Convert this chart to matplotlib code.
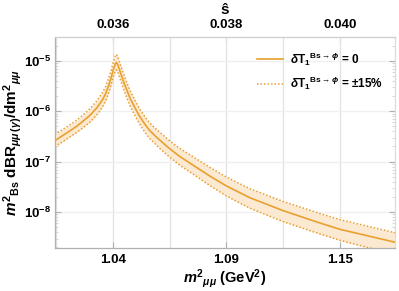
import matplotlib
matplotlib.use("Agg")
import matplotlib.pyplot as plt
from matplotlib.ticker import FixedLocator, FormatStrFormatter, LogLocator, NullFormatter

plt.rcParams['font.family'] = ['Liberation Sans', 'DejaVu Sans']
plt.rcParams['font.weight'] = 'bold'
plt.rcParams['axes.labelweight'] = 'bold'
plt.rcParams['mathtext.fontset'] = 'custom'
plt.rcParams['mathtext.rm'] = 'Liberation Sans:bold'
plt.rcParams['mathtext.it'] = 'Liberation Sans:italic:bold'
plt.rcParams['mathtext.bf'] = 'Liberation Sans:bold'
plt.rcParams['mathtext.sf'] = 'Liberation Sans:bold'

# ---- data ----
MB2 = 28.8  # m_Bs^2 in GeV^2, s_hat = m^2 / MB2
m2 = [1.0072, 1.0107, 1.0148, 1.0184, 1.0214, 1.0250, 1.0285, 1.0300, 1.0316, 1.0331,
      1.0346, 1.0359, 1.0369, 1.0379, 1.0385, 1.0392, 1.0400, 1.0410, 1.0422, 1.0438,
      1.0453, 1.0471, 1.0488, 1.0504, 1.0529, 1.0554, 1.0580, 1.0605, 1.0653, 1.0707,
      1.0773, 1.0859, 1.0944, 1.1062, 1.1232, 1.1418, 1.1523, 1.1809]
central = [2.605e-7, 3.184e-7, 4.055e-7, 5.046e-7, 6.25e-7, 8.22e-7, 1.157e-6, 1.389e-6, 1.720e-6, 2.241e-6,
           3.228e-6, 4.648e-6, 6.54e-6, 8.60e-6, 9.30e-6, 8.41e-6, 6.85e-6, 5.21e-6, 3.79e-6, 2.63e-6,
           1.867e-6, 1.357e-6, 1.009e-6, 7.85e-7, 5.58e-7, 4.15e-7, 3.30e-7, 2.69e-7, 1.84e-7, 1.268e-7,
           8.60e-8, 5.21e-8, 3.30e-8, 1.937e-8, 1.071e-8, 6.11e-9, 4.54e-9, 2.49e-9]
upper = [3.43e-7, 4.19e-7, 5.33e-7, 6.64e-7, 8.33e-7, 1.111e-6, 1.592e-6, 1.928e-6, 2.387e-6, 3.111e-6,
         4.564e-6, 6.572e-6, 9.25e-6, 1.238e-5, 1.339e-5, 1.211e-5, 9.77e-6, 7.43e-6, 5.41e-6, 3.70e-6,
         2.629e-6, 1.911e-6, 1.421e-6, 1.105e-6, 7.89e-7, 5.87e-7, 4.67e-7, 3.86e-7, 2.64e-7, 1.835e-7,
         1.262e-7, 7.75e-8, 4.97e-8, 2.92e-8, 1.629e-8, 9.42e-9, 7.06e-9, 3.84e-9]
lower = [1.98e-7, 2.42e-7, 3.08e-7, 3.80e-7, 4.65e-7, 6.03e-7, 8.41e-7, 1.001e-6, 1.239e-6, 1.615e-6,
         2.304e-6, 3.318e-6, 4.668e-6, 6.11e-6, 6.61e-6, 5.97e-6, 4.87e-6, 3.70e-6, 2.69e-6, 1.843e-6,
         1.308e-6, 9.51e-7, 7.07e-7, 5.50e-7, 3.875e-7, 2.88e-7, 2.29e-7, 1.834e-7, 1.254e-7, 8.53e-8,
         5.71e-8, 3.38e-8, 2.09e-8, 1.200e-8, 6.49e-9, 3.70e-9, 2.75e-9, 1.42e-9]
shat_ticks = [0.036, 0.038, 0.040]
shat_grid = [0.035, 0.036, 0.037, 0.038, 0.039, 0.040]
legend_labels = [r"$\delta\mathrm{T}_1{}^{\mathrm{Bs}\rightarrow\phi}$ = 0",
                 r"$\delta\mathrm{T}_1{}^{\mathrm{Bs}\rightarrow\phi}$ = $\pm$15%"]

ORANGE = '#E8A030'
FILL = '#FBE9D2'
GRIDC = '#e2e2e2'
SPINE = '#b0b0b0'

fig = plt.figure(figsize=(3.99, 2.91), dpi=100)
ax = fig.add_axes([0.1386, 0.1478, 0.851, 0.7262])

ax.fill_between(m2, lower, upper, color=FILL, lw=0, zorder=1)
ax.plot(m2, central, color=ORANGE, lw=1.2, zorder=3, label=legend_labels[0])
ax.plot(m2, upper, color=ORANGE, lw=1.1, ls=(0, (1, 1.3)), zorder=2, label=legend_labels[1])
ax.plot(m2, lower, color=ORANGE, lw=1.1, ls=(0, (1, 1.3)), zorder=2)

ax.set_yscale('log')
ax.set_xlim(1.0075, 1.1799)
ax.set_ylim(1.95e-9, 3.0e-5)

# bottom ticks at s_hat positions
ax.xaxis.set_major_locator(FixedLocator([s * MB2 for s in shat_ticks]))
ax.xaxis.set_major_formatter(FormatStrFormatter('%.2f'))
ax.xaxis.set_minor_locator(FixedLocator([s * MB2 for s in shat_grid]))
ax.yaxis.set_major_locator(LogLocator(base=10, numticks=10))
ax.yaxis.set_minor_locator(LogLocator(base=10, subs=range(2, 10), numticks=10))
ax.yaxis.set_minor_formatter(NullFormatter())

ax.grid(True, which='both', axis='x', color=GRIDC, lw=0.9, zorder=0)
ax.grid(True, which='major', axis='y', color='#efefef', lw=0.9, zorder=0)
ax.set_axisbelow(True)

for sp in ax.spines.values():
    sp.set_color(SPINE)
    sp.set_linewidth(0.9)
ax.spines['top'].set_color('#d0d0d0')
ax.spines['right'].set_color('#dcdcdc')

ax.tick_params(axis='both', which='both', direction='in', color=SPINE)
ax.tick_params(axis='x', which='major', length=4, labelsize=9.5, pad=4)
ax.tick_params(axis='x', which='minor', length=0)
ax.tick_params(axis='y', which='major', length=4, labelsize=9.5, pad=3, right=True)
ax.tick_params(axis='y', which='minor', length=2, right=True, color='#d0d0d0')

ax.set_xlabel(r"$m^2{}_{\mu\mu}$ (GeV$^2$)", fontsize=10.5, labelpad=1)
ax.set_ylabel(r"$m^2{}_{\mathrm{Bs}}$ dBR$_{\mu\mu\,(\gamma)}$/dm$^2{}_{\mu\mu}$", fontsize=11, labelpad=0)

sec = ax.secondary_xaxis('top', functions=(lambda x: x / MB2, lambda s: s * MB2))
sec.xaxis.set_major_locator(FixedLocator(shat_ticks))
sec.xaxis.set_major_formatter(FormatStrFormatter('%.3f'))
sec.tick_params(axis='x', direction='in', length=4, labelsize=9.5, pad=4, color=SPINE)
sec.spines['top'].set_color('#d0d0d0')
sec.set_xlabel("ŝ", fontsize=11, fontweight='bold', labelpad=4)

leg = ax.legend(loc='upper left', bbox_to_anchor=(0.594, 0.935), frameon=False, fontsize=8.5,
                handlelength=2.2, handletextpad=0.6, labelspacing=0.6,
                borderpad=0, borderaxespad=0)

fig.savefig('out.png', dpi=100)
